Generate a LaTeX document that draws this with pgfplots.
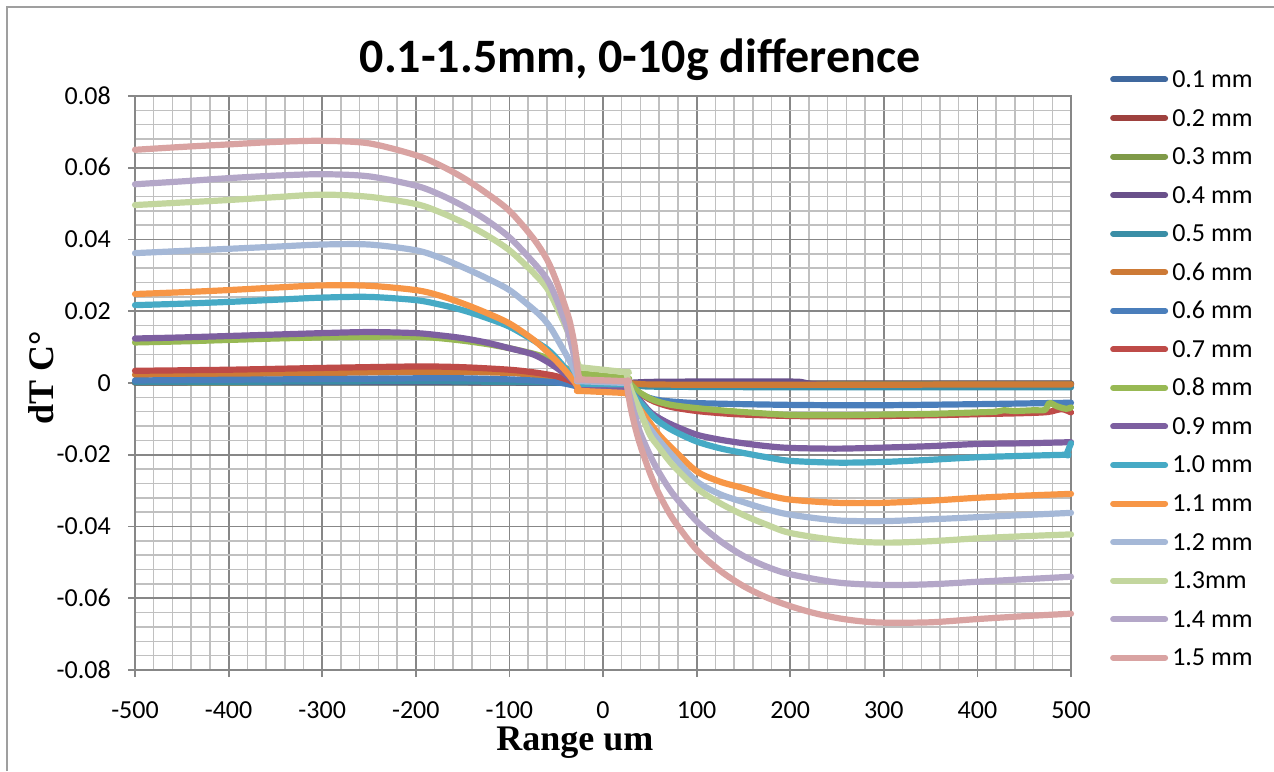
\documentclass[border=0pt]{standalone}
\usepackage{fontspec}
\setmainfont{Carlito}
\newfontfamily\serifbf{Liberation Serif}
\usepackage{pgfplots}
\pgfplotsset{compat=1.18}
\definecolor{cA}{HTML}{3F689E}
\definecolor{cB}{HTML}{9E413E}
\definecolor{cC}{HTML}{7F9A48}
\definecolor{cD}{HTML}{69508A}
\definecolor{cE}{HTML}{3A8EA6}
\definecolor{cF}{HTML}{CD7A36}
\definecolor{cG}{HTML}{4A7EBB}
\definecolor{cH}{HTML}{BE4B48}
\definecolor{cI}{HTML}{98B954}
\definecolor{cJ}{HTML}{7D5FA0}
\definecolor{cK}{HTML}{46AAC5}
\definecolor{cL}{HTML}{F79646}
\definecolor{cM}{HTML}{A5B8D7}
\definecolor{cN}{HTML}{C3D69E}
\definecolor{cO}{HTML}{B4A7C8}
\definecolor{cP}{HTML}{D9A3A2}
\definecolor{gmaj}{HTML}{878787}
\definecolor{gmin}{HTML}{C0C0C0}
\begin{document}
\begin{tikzpicture}
\path[use as bounding box] (0pt,0pt) rectangle (1274pt,771pt);
\draw[color=gmaj!80, line width=1.5pt] (7pt,0pt) -- (7pt,764pt) -- (1274pt,764pt);
\node[anchor=base, font=\fontsize{48}{48}\selectfont\bfseries] at (640pt,698pt) {0.1-1.5mm, 0-10g difference};
\begin{axis}[
  at={(135pt,101pt)}, anchor=south west, scale only axis,
  width=936pt, height=574pt,
  xmin=-500, xmax=500, ymin=-0.08, ymax=0.08,
  clip=false,
  scaled x ticks=false, scaled y ticks=false,
  xtick={-500,-400,-300,-200,-100,0,100,200,300,400,500},
  xticklabels={-500,-400,-300,-200,-100,0,100,200,300,400,500},
  ytick={-0.08,-0.06,-0.04,-0.02,0,0.02,0.04,0.06,0.08},
  yticklabels={-0.08,-0.06,-0.04,-0.02,0,0.02,0.04,0.06,0.08},
  minor x tick num=4, minor y tick num=4,
  grid=both,
  major grid style={color=gmaj, line width=1.8pt},
  minor grid style={color=gmin, line width=1.5pt},
  axis line style={color=gmaj, line width=1.8pt},
  tick align=outside, tick pos=left,
  major tick length=7pt, minor tick length=0pt,
  tick style={color=gmaj, line width=1.8pt},
  tick label style={font=\fontsize{26}{26}\selectfont},
  xticklabel style={anchor=base, inner sep=0pt, yshift=-41.5pt, text height=17pt, text depth=0pt},
  yticklabel style={anchor=base east, inner sep=0pt, xshift=-17pt, yshift=-8.2pt},
  xlabel={\serifbf\bfseries Range um},
  ylabel={\serifbf\bfseries dT C°},
  xlabel style={at={(axis description cs:0.470,-0.1411)}, anchor=base, inner sep=0pt, text height=24pt, text depth=7pt, font=\fontsize{36}{36}\selectfont},
  ylabel style={at={(axis description cs:-0.1004,0.5087)}, anchor=center, inner sep=0pt, rotate=0, font=\fontsize{36}{36}\selectfont},
  legend cell align=left,
  legend style={draw=none, fill=none, at={(1.0385,1.0462)}, anchor=north west,
    inner sep=0pt, outer sep=0pt, row sep=15.55pt,
    font=\fontsize{26}{26}\selectfont,
    nodes={inner sep=0pt, text height=18pt, text depth=5pt}},
  legend image code/.code={\draw[#1, line width=6pt, line cap=round] (3pt,1.5pt) -- (55pt,1.5pt); \path (0pt,0pt) (59pt,0pt);},
  every axis plot/.append style={line width=6.2pt, line join=round, line cap=round, smooth, tension=0.5},
]
% 0.1 mm
\addplot[color=cA] coordinates {(-500,0.0001) (-300,0.0001) (-100,0.0001) (-25,0.0000) (-25,0.0000) (25,0.0000) (25,0.0000) (50,-0.0001) (200,-0.0001) (500,-0.0001)};
\addlegendentry{0.1 mm}
% 0.2 mm
\addplot[color=cB] coordinates {(-500,0.0002) (-300,0.0003) (-100,0.0002) (-25,0.0000) (-25,0.0000) (25,-0.0001) (25,-0.0001) (50,-0.0002) (200,-0.0002) (500,-0.0002)};
\addlegendentry{0.2 mm}
% 0.3 mm
\addplot[color=cC] coordinates {(-500,0.0001) (-300,0.0002) (-100,0.0002) (-25,0.0000) (-25,0.0000) (25,-0.0001) (25,-0.0001) (50,-0.0002) (200,-0.0003) (500,-0.0003)};
\addlegendentry{0.3 mm}
% 0.4 mm
\addplot[color=cD] coordinates {(-500,0.0002) (-300,0.0003) (-100,0.0002) (-25,0.0000) (-25,0.0000) (25,0.0000) (25,0.0000) (50,0.0003) (100,0.0004) (200,0.0004) (215,0.0001) (230,-0.0004) (300,-0.0005) (500,-0.0005)};
\addlegendentry{0.4 mm}
% 0.5 mm
\addplot[color=cE] coordinates {(-500,0.0003) (-300,0.0004) (-200,0.0005) (-100,0.0003) (-50,0.0001) (-30,-0.0002) (-25,-0.0003) (-25,-0.0003) (25,-0.0003) (25,-0.0003) (30,-0.0006) (40,-0.0008) (50,-0.0010) (100,-0.0011) (200,-0.0012) (300,-0.0012) (400,-0.0012) (500,-0.0012)};
\addlegendentry{0.5 mm}
% 0.6 mm (dark orange)
\addplot[color=cF] coordinates {(-500,0.0023) (-400,0.0025) (-300,0.0028) (-200,0.0031) (-150,0.0031) (-100,0.0028) (-75,0.0023) (-60,0.0019) (-50,0.0015) (-40,0.0010) (-30,0.0005) (-25,0.0003) (-25,0.0003) (25,0.0001) (25,0.0001) (30,-0.0001) (40,-0.0003) (50,-0.0004) (100,-0.0005) (200,-0.0005) (300,-0.0005) (400,-0.0004) (500,-0.0004)};
\addlegendentry{0.6 mm}
% 0.6 mm (blue)
\addplot[color=cG] coordinates {(-500,0.0007) (-400,0.0009) (-300,0.0011) (-200,0.0013) (-150,0.0013) (-100,0.0010) (-75,0.0007) (-60,0.0004) (-50,0.0002) (-40,-0.0002) (-30,-0.0008) (-27,-0.0011) (-25,-0.0011) (-25,-0.0011) (25,-0.0010) (25,-0.0010) (27,-0.0013) (30,-0.0018) (35,-0.0025) (40,-0.0031) (50,-0.0042) (60,-0.0048) (75,-0.0052) (100,-0.0056) (150,-0.0059) (200,-0.0061) (250,-0.0062) (300,-0.0062) (400,-0.0059) (450,-0.0057) (500,-0.0055)};
\addlegendentry{0.6 mm}
% 0.7 mm
\addplot[color=cH] coordinates {(-500,0.0034) (-400,0.0037) (-300,0.0042) (-200,0.0046) (-150,0.0044) (-100,0.0037) (-75,0.0030) (-60,0.0024) (-50,0.0019) (-40,0.0011) (-35,0.0006) (-30,0.0000) (-27,-0.0004) (-25,-0.0005) (-25,-0.0005) (25,-0.0006) (25,-0.0006) (27,-0.0010) (30,-0.0015) (35,-0.0023) (40,-0.0030) (50,-0.0046) (60,-0.0057) (75,-0.0068) (100,-0.0078) (125,-0.0084) (150,-0.0088) (200,-0.0092) (250,-0.0093) (300,-0.0092) (350,-0.0090) (400,-0.0087) (450,-0.0084) (475,-0.0081) (490,-0.0073) (500,-0.0082)};
\addlegendentry{0.7 mm}
% 0.8 mm
\addplot[color=cI] coordinates {(-500,0.0113) (-450,0.0116) (-400,0.0120) (-350,0.0124) (-300,0.0127) (-250,0.0129) (-200,0.0129) (-175,0.0125) (-150,0.0118) (-125,0.0109) (-100,0.0097) (-75,0.0082) (-60,0.0070) (-50,0.0055) (-40,0.0042) (-35,0.0035) (-30,0.0030) (-27,0.0028) (-25,0.0027) (-25,0.0027) (25,0.0013) (25,0.0013) (27,0.0005) (30,-0.0005) (35,-0.0018) (40,-0.0028) (50,-0.0043) (60,-0.0053) (75,-0.0062) (100,-0.0070) (125,-0.0076) (150,-0.0081) (200,-0.0089) (250,-0.0090) (300,-0.0088) (350,-0.0086) (400,-0.0082) (420,-0.0080) (428,-0.0076) (440,-0.0078) (460,-0.0076) (472,-0.0075) (477,-0.0056) (485,-0.0065) (495,-0.0072) (500,-0.0068)};
\addlegendentry{0.8 mm}
% 0.9 mm
\addplot[color=cJ] coordinates {(-500,0.0124) (-450,0.0127) (-400,0.0131) (-350,0.0135) (-300,0.0139) (-250,0.0142) (-200,0.0139) (-175,0.0133) (-150,0.0125) (-125,0.0113) (-100,0.0097) (-75,0.0080) (-60,0.0060) (-50,0.0043) (-40,0.0024) (-35,0.0013) (-30,0.0001) (-27,-0.0008) (-25,-0.0014) (-25,-0.0014) (25,-0.0016) (25,-0.0016) (27,-0.0020) (30,-0.0026) (35,-0.0038) (40,-0.0050) (50,-0.0080) (60,-0.0098) (75,-0.0118) (100,-0.0144) (125,-0.0158) (150,-0.0168) (175,-0.0176) (200,-0.0181) (250,-0.0183) (300,-0.0180) (350,-0.0176) (400,-0.0170) (450,-0.0168) (500,-0.0165)};
\addlegendentry{0.9 mm}
% 1.0 mm
\addplot[color=cK] coordinates {(-500,0.0217) (-450,0.0221) (-400,0.0226) (-350,0.0232) (-300,0.0238) (-250,0.0240) (-200,0.0231) (-175,0.0219) (-150,0.0203) (-125,0.0182) (-100,0.0157) (-75,0.0120) (-60,0.0095) (-50,0.0070) (-40,0.0040) (-35,0.0025) (-30,0.0010) (-27,0.0000) (-25,-0.0002) (-25,-0.0002) (25,-0.0004) (25,-0.0004) (27,-0.0012) (30,-0.0022) (35,-0.0040) (40,-0.0055) (50,-0.0084) (60,-0.0108) (75,-0.0133) (100,-0.0163) (125,-0.0182) (150,-0.0195) (175,-0.0207) (200,-0.0217) (250,-0.0222) (300,-0.0220) (350,-0.0214) (400,-0.0207) (450,-0.0203) (495,-0.0200) (495,-0.0200) (500,-0.0168)};
\addlegendentry{1.0 mm}
% 1.1 mm
\addplot[color=cL] coordinates {(-500,0.0248) (-450,0.0253) (-400,0.0259) (-350,0.0266) (-300,0.0272) (-250,0.0271) (-200,0.0259) (-175,0.0244) (-150,0.0222) (-125,0.0196) (-100,0.0166) (-75,0.0122) (-60,0.0088) (-50,0.0062) (-40,0.0034) (-35,0.0018) (-30,0.0002) (-27,-0.0012) (-25,-0.0022) (-25,-0.0022) (25,-0.0028) (25,-0.0028) (27,-0.0035) (30,-0.0045) (35,-0.0060) (40,-0.0075) (50,-0.0110) (60,-0.0145) (75,-0.0185) (100,-0.0246) (125,-0.0275) (150,-0.0293) (175,-0.0312) (200,-0.0325) (250,-0.0334) (300,-0.0334) (350,-0.0328) (400,-0.0320) (450,-0.0314) (500,-0.0309)};
\addlegendentry{1.1 mm}
% 1.2 mm
\addplot[color=cM] coordinates {(-500,0.0362) (-450,0.0368) (-400,0.0374) (-350,0.0380) (-300,0.0386) (-250,0.0386) (-200,0.0370) (-175,0.0350) (-150,0.0323) (-125,0.0293) (-100,0.0259) (-75,0.0207) (-65,0.0183) (-60,0.0168) (-55,0.0150) (-50,0.0128) (-45,0.0105) (-40,0.0082) (-35,0.0058) (-30,0.0032) (-27,0.0014) (-25,0.0005) (-25,0.0005) (25,0.0000) (25,0.0000) (27,-0.0020) (30,-0.0040) (35,-0.0070) (40,-0.0090) (50,-0.0126) (60,-0.0160) (75,-0.0205) (100,-0.0274) (125,-0.0310) (150,-0.0332) (175,-0.0352) (200,-0.0367) (250,-0.0383) (300,-0.0385) (350,-0.0380) (400,-0.0374) (450,-0.0368) (500,-0.0362)};
\addlegendentry{1.2 mm}
% 1.3 mm
\addplot[color=cN] coordinates {(-500,0.0496) (-450,0.0503) (-400,0.0510) (-350,0.0518) (-300,0.0525) (-250,0.0519) (-200,0.0499) (-175,0.0477) (-150,0.0448) (-125,0.0413) (-100,0.0370) (-75,0.0309) (-60,0.0265) (-50,0.0215) (-40,0.0158) (-35,0.0125) (-30,0.0085) (-27,0.0055) (-25,0.0044) (-25,0.0044) (25,0.0030) (25,0.0030) (27,0.0005) (30,-0.0020) (35,-0.0050) (40,-0.0080) (50,-0.0144) (60,-0.0180) (75,-0.0230) (100,-0.0293) (125,-0.0335) (150,-0.0368) (175,-0.0395) (200,-0.0418) (250,-0.0438) (300,-0.0445) (350,-0.0441) (400,-0.0433) (450,-0.0427) (500,-0.0422)};
\addlegendentry{1.3mm}
% 1.4 mm
\addplot[color=cO] coordinates {(-500,0.0554) (-450,0.0562) (-400,0.0571) (-350,0.0578) (-300,0.0582) (-250,0.0576) (-200,0.0550) (-175,0.0526) (-150,0.0494) (-125,0.0455) (-100,0.0406) (-75,0.0338) (-60,0.0290) (-50,0.0236) (-40,0.0165) (-35,0.0120) (-30,0.0065) (-27,0.0025) (-25,0.0008) (-25,0.0008) (25,0.0004) (25,0.0004) (27,-0.0020) (30,-0.0050) (35,-0.0100) (40,-0.0140) (50,-0.0200) (60,-0.0250) (75,-0.0310) (100,-0.0385) (125,-0.0440) (150,-0.0482) (175,-0.0512) (200,-0.0533) (250,-0.0556) (300,-0.0563) (350,-0.0561) (400,-0.0554) (450,-0.0547) (500,-0.0540)};
\addlegendentry{1.4 mm}
% 1.5 mm
\addplot[color=cP] coordinates {(-500,0.0650) (-450,0.0658) (-400,0.0665) (-350,0.0672) (-300,0.0675) (-250,0.0668) (-200,0.0635) (-175,0.0608) (-150,0.0573) (-125,0.0530) (-100,0.0480) (-75,0.0405) (-60,0.0345) (-50,0.0285) (-40,0.0210) (-35,0.0166) (-30,0.0100) (-27,0.0035) (-25,0.0010) (-25,0.0010) (25,0.0005) (25,0.0005) (27,-0.0030) (30,-0.0075) (35,-0.0130) (40,-0.0175) (50,-0.0250) (60,-0.0310) (75,-0.0380) (100,-0.0465) (125,-0.0523) (150,-0.0566) (175,-0.0598) (200,-0.0622) (225,-0.0641) (250,-0.0655) (275,-0.0664) (300,-0.0668) (350,-0.0667) (400,-0.0658) (450,-0.0650) (500,-0.0643)};
\addlegendentry{1.5 mm}
\end{axis}
\end{tikzpicture}
\end{document}
